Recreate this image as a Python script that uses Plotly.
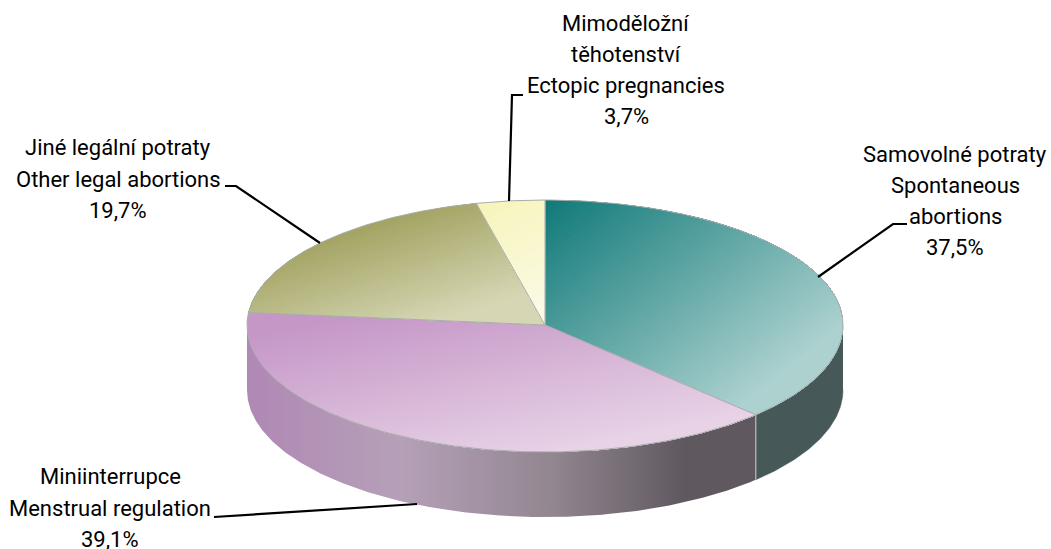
import numpy as np
import plotly.graph_objects as go

# ---- data ----
labels = [
    "Samovolné potraty<br>Spontaneous<br>abortions<br>37,5%",
    "Miniinterrupce<br>Menstrual regulation<br>39,1%",
    "Jiné legální potraty<br>Other legal abortions<br>19,7%",
    "Mimoděložní<br>těhotenství<br>Ectopic pregnancies<br>3,7%",
]
shares = [37.5, 39.1, 19.7, 3.7]

# ---- styling ----
PAGE_W, PAGE_H = 1051, 549
CX, CY, RX, RY_TOP, RY_BOT, DEPTH = 545.0, 325.0, 298.0, 125.0, 127.0, 65.0
# gradient of each top face: start point, end point, start colour, end colour
grad_from = [(545, 200), (300, 325), (320, 240), (480, 205)]
grad_to = [(720, 420), (333, 493), (354, 347), (540, 320)]
col_from = [(17, 122, 121), (197, 151, 199), (163, 164, 99), (247, 245, 187)]
col_to = [(172, 209, 207), (231, 210, 230), (214, 214, 181), (251, 250, 232)]
side_stops = [(0.0, "#b088b4"), (0.3, "#b5a0b8"), (0.6, "#928690"), (0.86, "#5f585f"), (1.0, "#5f585f")]
side_right = "#465858"
edge = "#a9adad"
label_pos = [(955, 201), (110, 508), (118, 179), (626, 70)]
LINE_STEP = 31.3
leaders = [
    ([818, 893, 907], [277, 224, 224]),
    ([417, 214], [504, 517]),
    ([320, 236, 225], [243, 186, 186]),
    ([509, 512, 523], [201, 95, 95]),
]
BANDS = 64


def rim(a):
    a = np.asarray(a, dtype=float)
    ry = np.where(np.cos(a) < 0, RY_BOT, RY_TOP)
    return CX + RX * np.sin(a), CY - ry * np.cos(a)


def clip(poly, p, n, t):
    """Keep the part of a polygon where dot(xy-p, n) >= t."""
    out = []
    m = len(poly)
    for i in range(m):
        a, b = poly[i], poly[(i + 1) % m]
        da = (a[0] - p[0]) * n[0] + (a[1] - p[1]) * n[1] - t
        db = (b[0] - p[0]) * n[0] + (b[1] - p[1]) * n[1] - t
        if da >= 0:
            out.append(a)
        if da * db < 0:
            s = da / (da - db)
            out.append((a[0] + s * (b[0] - a[0]), a[1] + s * (b[1] - a[1])))
    return out


fig = go.Figure()


def add_poly(xs, ys, **kw):
    fig.add_trace(go.Scatter(x=list(xs), y=list(ys), mode="lines", fill="toself",
                             hoverinfo="skip", showlegend=False, **kw))


total = sum(shares)
bounds = 2 * np.pi * np.concatenate([[0], np.cumsum(shares)]) / total

# side wall (only the front part of the rim is visible)
a_split = bounds[1]
a_left = 1.5 * np.pi
arc = np.linspace(np.pi / 2, a_split, 80)
x, y = rim(arc)
add_poly(np.r_[x, x[::-1]], np.r_[y, y[::-1] + DEPTH], fillcolor=side_right,
         line=dict(color=side_right, width=0.5))
arc = np.linspace(a_split, a_left, 200)
x, y = rim(arc)
add_poly(np.r_[x, x[::-1]], np.r_[y, y[::-1] + DEPTH],
         fillgradient=dict(type="horizontal", colorscale=side_stops,
                           start=CX - RX, stop=x.max()),
         line=dict(color="#a99aab", width=0))
sx, sy = rim([a_split])
fig.add_trace(go.Scatter(x=[sx[0], sx[0]], y=[sy[0], sy[0] + DEPTH], mode="lines",
                         line=dict(color=edge, width=1.5), hoverinfo="skip", showlegend=False))

# top faces: each slice is painted as successively narrower gradient steps
for i in range(len(shares)):
    arc = np.linspace(bounds[i], bounds[i + 1], 160)
    x, y = rim(arc)
    poly = [(CX, CY)] + list(zip(x, y))
    p, q = grad_from[i], grad_to[i]
    d = np.array([q[0] - p[0], q[1] - p[1]], dtype=float)
    length = np.hypot(*d)
    n = d / length
    for k in range(BANDS):
        f = k / (BANDS - 1)
        rgb = [round(col_from[i][c] + f * (col_to[i][c] - col_from[i][c])) for c in range(3)]
        part = poly if k == 0 else clip(poly, p, n, f * length)
        if len(part) < 3:
            continue
        add_poly([v[0] for v in part] + [part[0][0]], [v[1] for v in part] + [part[0][1]],
                 fillcolor="rgb(%d,%d,%d)" % tuple(rgb), line=dict(width=0))
    fig.add_trace(go.Scatter(x=[v[0] for v in poly] + [poly[0][0]],
                             y=[v[1] for v in poly] + [poly[0][1]], mode="lines",
                             line=dict(color=edge, width=1), hoverinfo="skip", showlegend=False))

# leader lines
for lx, ly in leaders:
    fig.add_trace(go.Scatter(x=lx, y=ly, mode="lines", line=dict(color="black", width=2.2),
                             hoverinfo="skip", showlegend=False))

for text, (tx, ty) in zip(labels, label_pos):
    rows = text.split("<br>")
    for r, row in enumerate(rows):
        fig.add_annotation(x=tx, y=ty + (r - (len(rows) - 1) / 2) * LINE_STEP, text=row,
                           showarrow=False, xanchor="center", yanchor="middle",
                           font=dict(family="Roboto", size=22, color="black"))

fig.update_layout(width=PAGE_W, height=PAGE_H,
                  margin=dict(l=0, r=0, t=0, b=0),
                  paper_bgcolor="white", plot_bgcolor="white", showlegend=False,
                  xaxis=dict(range=[0, PAGE_W], visible=False, fixedrange=True),
                  yaxis=dict(range=[PAGE_H, 0], visible=False, fixedrange=True))
fig.write_html("out.html", config={"displayModeBar": False},
               default_width="%dpx" % PAGE_W, default_height="%dpx" % PAGE_H,
               post_script="document.body.style.margin='0';"
                           "document.documentElement.style.overflow='hidden';")
